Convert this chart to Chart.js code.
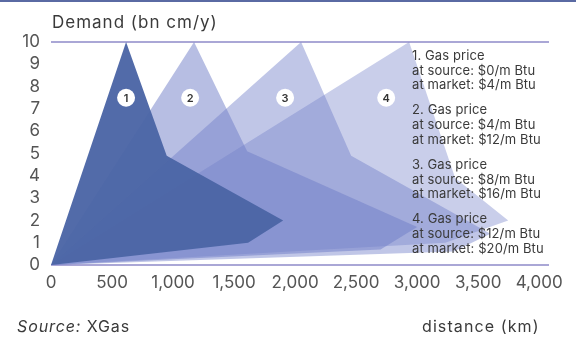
<!DOCTYPE html>
<html>
<head>
<meta charset="utf-8">
<script src="https://cdn.jsdelivr.net/npm/chart.js@4"></script>
<style>
  html,body{margin:0;padding:0;background:#fff;}
  #wrap{position:relative;width:576px;height:337px;overflow:hidden;background:#fff;font-family:Inter,"Noto Sans",sans-serif;color:#3a3a3a;}
  #topbar{position:absolute;left:0;top:0;width:576px;height:2px;background:#5a6aa3;}
  canvas{position:absolute;left:0;top:0;}
  .t{position:absolute;white-space:nowrap;}
  #ytitle{left:52px;top:12px;font-size:17px;letter-spacing:1px;}
  #legend{left:412px;top:48px;font-size:13px;line-height:14.7px;letter-spacing:0.1px;}
  #legend div.b{margin-bottom:10.3px;}
  #source{left:17px;top:316px;font-size:16px;letter-spacing:0.9px;}
  #xtitle{left:422px;top:316px;font-size:16px;letter-spacing:1.1px;}
</style>
</head>
<body>
<div id="wrap">
  <div id="topbar"></div>
  <canvas id="c" width="576" height="337"></canvas>
  <div class="t" id="ytitle">Demand (bn cm/y)</div>
  <div class="t" id="legend"></div>
  <div class="t" id="source"><i>Source:</i> XGas</div>
  <div class="t" id="xtitle">distance (km)</div>
</div>
<script>
// ---- data (distance km, demand bn cm/y) ----
const shape1X = [0, 615, 948, 1902, 1615, 0];
const shape1Y = [0, 10, 4.9, 2.0, 1.0, 0];
const shape2X = [0, 1172, 1607, 3000, 2700, 0];
const shape2Y = [0, 10, 5.1, 1.7, 0.7, 0];
const shape3X = [0, 2049, 2459, 3600, 3300, 0];
const shape3Y = [0, 10, 4.9, 1.4, 0.6, 0];
const shape4X = [0, 2934, 3311, 3746, 3230, 0];
const shape4Y = [0, 10, 3.9, 2.0, 1.0, 0];

const markerLabels = ['1', '2', '3', '4'];
const markerX = [615, 1140, 1918, 2746];
const markerY = [7.5, 7.5, 7.5, 7.5];

const legendTitles = ['1. Gas price', '2. Gas price', '3. Gas price', '4. Gas price'];
const legendSource = ['at source: $0/m Btu', 'at source: $4/m Btu', 'at source: $8/m Btu', 'at source: $12/m Btu'];
const legendMarket = ['at market: $4/m Btu', 'at market: $12/m Btu', 'at market: $16/m Btu', 'at market: $20/m Btu'];

const xTickValues = [0, 500, 1000, 1500, 2000, 2500, 3000, 3500, 4000];
const yTickValues = [0, 1, 2, 3, 4, 5, 6, 7, 8, 9, 10];

// ---- legend text ----
const leg = document.getElementById('legend');
legendTitles.forEach((t, i) => {
  const d = document.createElement('div');
  d.className = 'b';
  d.innerHTML = '<div>' + t + '</div><div>' + legendSource[i] + '</div><div>' + legendMarket[i] + '</div>';
  leg.appendChild(d);
});

const pts = (xs, ys) => xs.map((x, i) => ({x: x, y: ys[i]}));

const markerText = {
  id: 'markerText',
  afterDatasetsDraw(chart) {
    const meta = chart.getDatasetMeta(0);
    const ctx = chart.ctx;
    ctx.save();
    ctx.fillStyle = '#333';
    ctx.font = '600 11px Inter, sans-serif';
    ctx.textAlign = 'center';
    ctx.textBaseline = 'middle';
    meta.data.forEach((p, i) => ctx.fillText(markerLabels[i], p.x, p.y + 0.5));
    ctx.restore();
  }
};

const shapeStyle = (data, color, order) => ({
  data: data, showLine: true, fill: 'shape', backgroundColor: color,
  borderWidth: 0, borderColor: 'rgba(0,0,0,0)', pointRadius: 0, order: order, tension: 0
});

new Chart(document.getElementById('c'), {
  type: 'line',
  data: {
    datasets: [
      {data: pts(markerX, markerY), showLine: false, pointRadius: 9, pointBackgroundColor: '#fff',
       pointBorderWidth: 0, pointBorderColor: '#fff', order: 0},
      shapeStyle(pts(shape1X, shape1Y), 'rgba(76,102,166,0.97)', 1),
      shapeStyle(pts(shape2X, shape2Y), 'rgba(112,126,200,0.5)', 2),
      shapeStyle(pts(shape3X, shape3Y), 'rgba(112,126,200,0.44)', 3),
      shapeStyle(pts(shape4X, shape4Y), 'rgba(112,126,200,0.38)', 4)
    ]
  },
  options: {
    responsive: false,
    animation: false,
    events: [],
    layout: {padding: {left: 0, right: 27, top: 42, bottom: 0}},
    plugins: {legend: {display: false}, tooltip: {enabled: false}},
    scales: {
      x: {
        type: 'linear', min: 0, max: 4080,
        afterBuildTicks: s => { s.ticks = xTickValues.map(v => ({value: v})); },
        afterFit: s => { s.height = 72; },
        ticks: {padding: 8, color: '#555', maxRotation: 0, minRotation: 0, autoSkip: false,
          font: {family: 'Inter', size: 17},
          callback: v => Number(v).toLocaleString('en-US')},
        grid: {display: false, drawTicks: false},
        border: {display: false}
      },
      y: {
        min: 0, max: 10,
        afterBuildTicks: s => { s.ticks = yTickValues.map(v => ({value: v})); },
        afterFit: s => { s.width = 51; },
        ticks: {padding: 11, color: '#555', autoSkip: false, font: {family: 'Inter', size: 17}},
        grid: {drawTicks: false, lineWidth: 2,
          color: c => (c.tick && (c.tick.value === 0 || c.tick.value === 10)) ? '#aaa7d6' : 'rgba(0,0,0,0)'},
        border: {display: false}
      }
    }
  },
  plugins: [markerText]
});
</script>
</body>
</html>
